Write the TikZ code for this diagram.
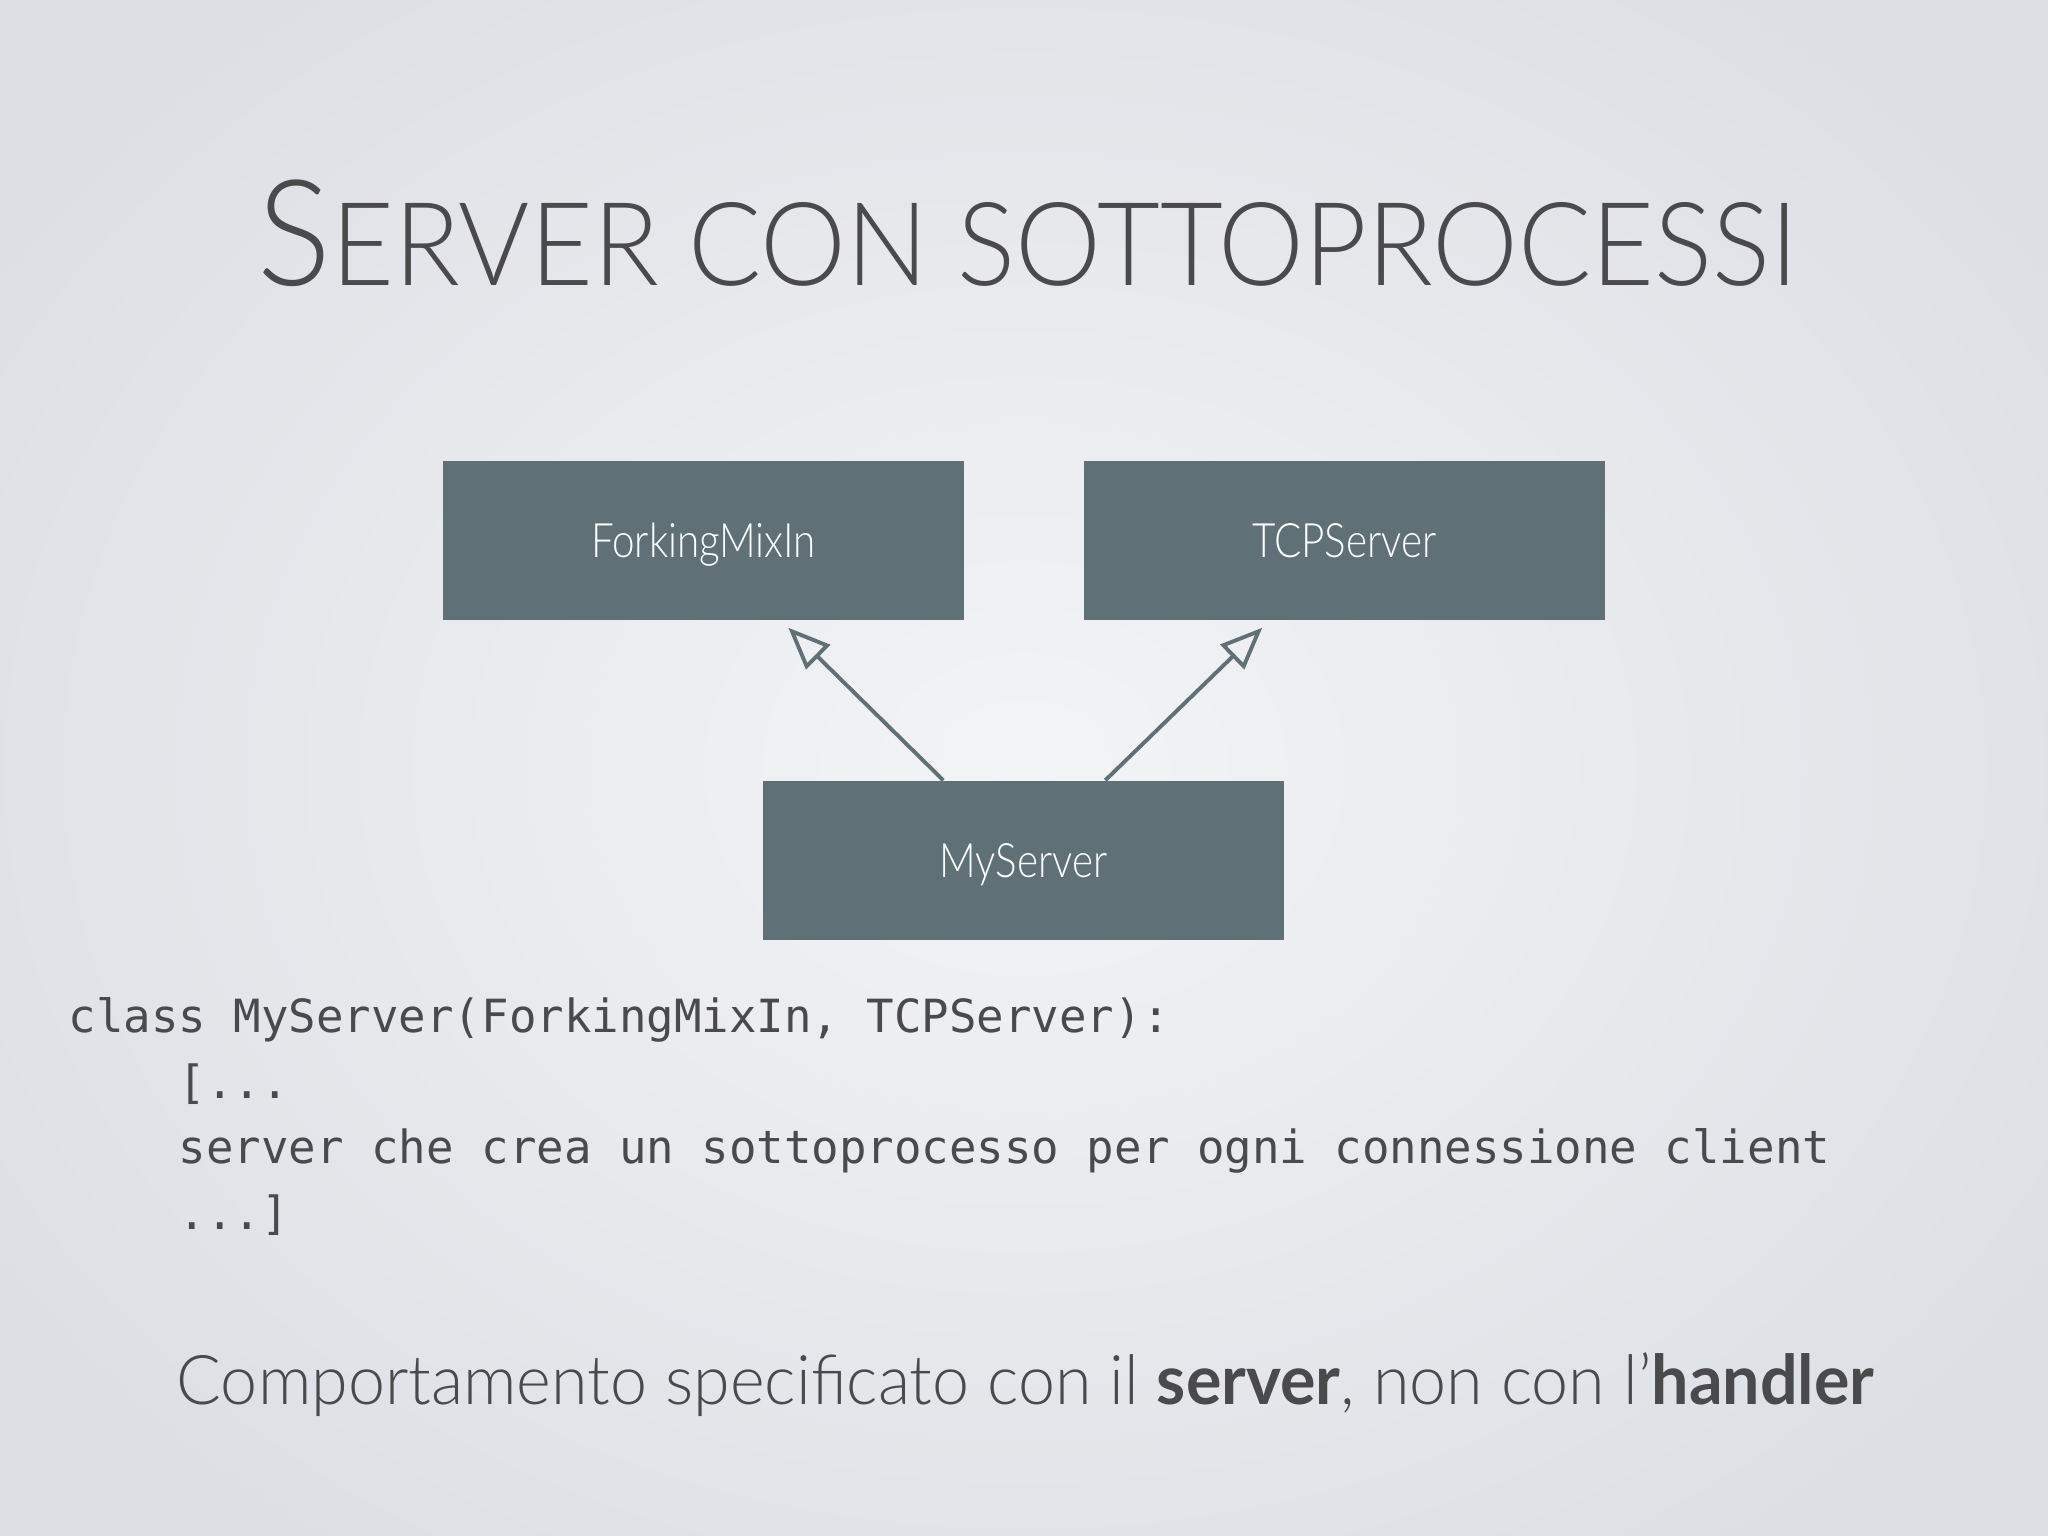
\documentclass[tikz,border=0pt]{standalone}
\usepackage{fontspec}
\setmainfont{Lato}[UprightFont={* Light}, BoldFont={* Bold}]
\newfontfamily\codefont{DejaVu Sans Mono}
\usetikzlibrary{arrows.meta,calc}
\definecolor{bgin}{HTML}{F3F4F6}
\definecolor{bgout}{HTML}{DCDFE4}
\definecolor{boxfill}{HTML}{5F7176}
\definecolor{txt}{HTML}{4A4A4D}
\tikzset{
  umlbox/.style={fill=boxfill, draw=none, minimum width=5.21cm, minimum height=1.59cm, inner sep=0pt, text=white, text height=0.34cm, text depth=0pt, font=\fontsize{13.5}{16}\selectfont},
  inherit/.style={draw=boxfill, line width=1.1pt, -{Triangle[open, length=0.42cm, width=0.34cm, line width=1.1pt]}},
  code/.style={anchor=base west, inner sep=0pt, text=txt, font=\codefont\fontsize{13}{16}\selectfont},
}
\newcommand{\narrow}[1]{\scalebox{0.85}[1]{#1}}
\begin{document}
\begin{tikzpicture}[x=0.01cm, y=-0.01cm]
\useasboundingbox (0,0) rectangle (2048,1536);
\shade[inner color=bgin, outer color=bgout] (-200,-200) rectangle (2248,1736);
\node[anchor=base west, inner sep=0pt, text=txt] (title) at (257,285)
  {\scalebox{0.935}[1]{\fontsize{42}{42}\selectfont S\fontsize{33}{33}\selectfont ERVER CON SOTTOPROCESSI}};
\node[umlbox] (fm) at (703.5,540.5) {\narrow{ForkingMixIn}};
\node[umlbox] (tcp) at (1344.5,540.5) {\narrow{TCPServer}};
\node[umlbox] (my) at (1023.5,860.5) {\narrow{MyServer}};
\draw[inherit] ([xshift=1.81cm]my.north west) -- ([xshift=3.46cm, yshift=-0.07cm]fm.south west);
\draw[inherit] ([xshift=3.43cm]my.north west) -- ([xshift=1.79cm, yshift=-0.07cm]tcp.south west);
\node[code] (c1) at (68,1032) {class MyServer(ForkingMixIn, TCPServer):};
\node[code] (c2) at (68,1098) {\ \ \ \ [...};
\node[code] (c3) at (68,1163) {\ \ \ \ server che crea un sottoprocesso per ogni connessione client};
\node[code] (c4) at (68,1229) {\ \ \ \ ...]};
\node[anchor=base west, inner sep=0pt, text=txt, font=\fontsize{19.5}{22}\selectfont] (note) at (176,1404)
  {\scalebox{0.968}[1]{Comportamento specificato con il \textbf{server}, non con l’\textbf{handler}}};
\end{tikzpicture}
\end{document}
